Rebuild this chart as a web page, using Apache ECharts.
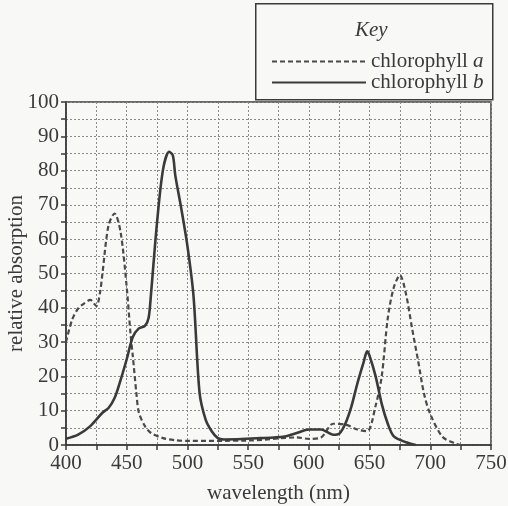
<!DOCTYPE html>
<html>
<head>
<meta charset="utf-8">
<script src="https://cdn.jsdelivr.net/npm/echarts@6/dist/echarts.min.js"></script>
<style>
  html, body { margin: 0; padding: 0; background: #f8f8f7; }
  #chart { width: 508px; height: 506px; }
</style>
</head>
<body>
<div id="chart"></div>
<script>
// chlorophyll a (dashed)
const wavelengthA = [400, 405, 410, 415, 420, 425, 428, 430, 435, 440, 445, 450, 453, 455, 458, 460, 465, 470, 480, 490, 500, 550, 590, 600, 610, 620, 630, 640, 648, 655, 660, 665, 670, 675, 680, 685, 690, 695, 700, 710, 720, 725]
const absorbA = [30, 36.5, 39.8, 41.3, 42.3, 40.5, 44.4, 50, 64, 67.5, 62, 46, 33, 26, 15, 9.5, 5.5, 3.5, 2, 1.4, 1.2, 1.3, 2.2, 1.8, 2.2, 6.2, 6, 4.5, 4, 11.5, 20, 37, 46, 49.5, 44, 34, 24.5, 14.7, 9, 2.4, 0.5, 0]
// chlorophyll b (solid)
const wavelengthB = [400, 410, 420, 430, 435, 440, 445, 450, 455, 460, 465, 468, 470, 475, 480, 485, 488, 490, 495, 500, 505, 510, 515, 520, 525, 530, 560, 580, 590, 600, 610, 615, 620, 625, 630, 635, 640, 645, 648, 650, 655, 660, 665, 670, 680, 688]
const absorbB = [1.8, 3, 5.5, 9.4, 10.8, 13.7, 19, 25, 31.5, 34, 34.7, 37, 44, 65, 80.5, 85.5, 84.4, 78.6, 68.8, 58, 43.5, 15.2, 7.4, 4, 2, 1.6, 2, 2.5, 3.5, 4.5, 4.5, 3.8, 3, 3.3, 6.2, 11.2, 18, 24, 27.3, 26, 20, 12, 6.2, 2.5, 0.8, 0]

const ink = '#3a3a3a'
const font = 'Liberation Serif'
const fs = 21

const pairs = (xs, ys) => xs.map((x, i) => [x, ys[i]])

const chart = echarts.init(document.getElementById('chart'))
chart.setOption({
  backgroundColor: '#f8f8f7',
  animation: false,
  textStyle: { fontFamily: font, color: ink },
  grid: {
    left: 66, right: 17, top: 102, bottom: 61,
    outerBoundsMode: 'none', containLabel: false,
    show: true, borderColor: ink, borderWidth: 1.5
  },
  graphic: [
    {
      type: 'rect', left: 255, top: 3,
      shape: { width: 237, height: 96 },
      style: { fill: 'transparent', stroke: ink, lineWidth: 1.5 }
    },
    {
      type: 'text', left: 355, top: 20,
      style: { text: 'Key', font: 'italic 21px "Liberation Serif"', fill: ink }
    }
  ],
  legend: {
    orient: 'vertical', left: 266, top: 46,
    itemWidth: 94, itemHeight: 12, itemGap: 0,
    data: ['chlorophyll a', 'chlorophyll b'],
    itemStyle: { color: 'transparent', borderColor: 'transparent', borderWidth: 0, opacity: 0 },
    formatter: name => '{t|chlorophyll }{i|' + name.slice(-1) + '}',
    textStyle: {
      fontFamily: font, fontSize: fs, color: ink,
      rich: {
        t: { fontFamily: font, fontSize: fs, color: ink },
        i: { fontFamily: font, fontSize: fs, color: ink, fontStyle: 'italic' }
      }
    }
  },
  xAxis: {
    type: 'value', min: 400, max: 750, interval: 25,
    name: 'wavelength (nm)', nameLocation: 'middle', nameGap: 38,
    nameTextStyle: { fontFamily: font, fontSize: fs, color: ink },
    axisLine: { lineStyle: { color: ink, width: 1.5 } },
    axisTick: { length: 5, lineStyle: { color: ink, width: 1.5 } },
    axisLabel: {
      fontFamily: font, fontSize: fs, color: ink, margin: 8,
      formatter: v => (v % 50 === 0 ? String(v) : '')
    },
    splitLine: { show: true, lineStyle: { color: '#8a8a8a', type: [2, 2], width: 1 } }
  },
  yAxis: {
    type: 'value', min: 0, max: 100, interval: 5,
    name: 'relative absorption', nameLocation: 'middle', nameGap: 39,
    nameMoveOverlap: false,
    nameTextStyle: { fontFamily: font, fontSize: fs, color: ink },
    axisLine: { show: true, lineStyle: { color: ink, width: 1.5 } },
    axisTick: { show: true, length: 5, lineStyle: { color: ink, width: 1.5 } },
    axisLabel: {
      fontFamily: font, fontSize: fs, color: ink, margin: 7,
      formatter: v => (v % 10 === 0 ? String(v) : '')
    },
    splitLine: { show: true, lineStyle: { color: '#8a8a8a', type: [2, 2], width: 1 } }
  },
  series: [
    {
      name: 'chlorophyll a', type: 'line', smooth: 0.3,
      symbol: 'none', data: pairs(wavelengthA, absorbA),
      lineStyle: { color: '#4a4a4a', width: 2.2, type: [5, 3] },
      itemStyle: { color: '#4a4a4a' }
    },
    {
      name: 'chlorophyll b', type: 'line', smooth: 0.3,
      symbol: 'none', data: pairs(wavelengthB, absorbB),
      lineStyle: { color: '#3a3a3a', width: 2.6 },
      itemStyle: { color: '#3a3a3a' }
    }
  ]
})
window.addEventListener('resize', () => chart.resize())
</script>
</body>
</html>
